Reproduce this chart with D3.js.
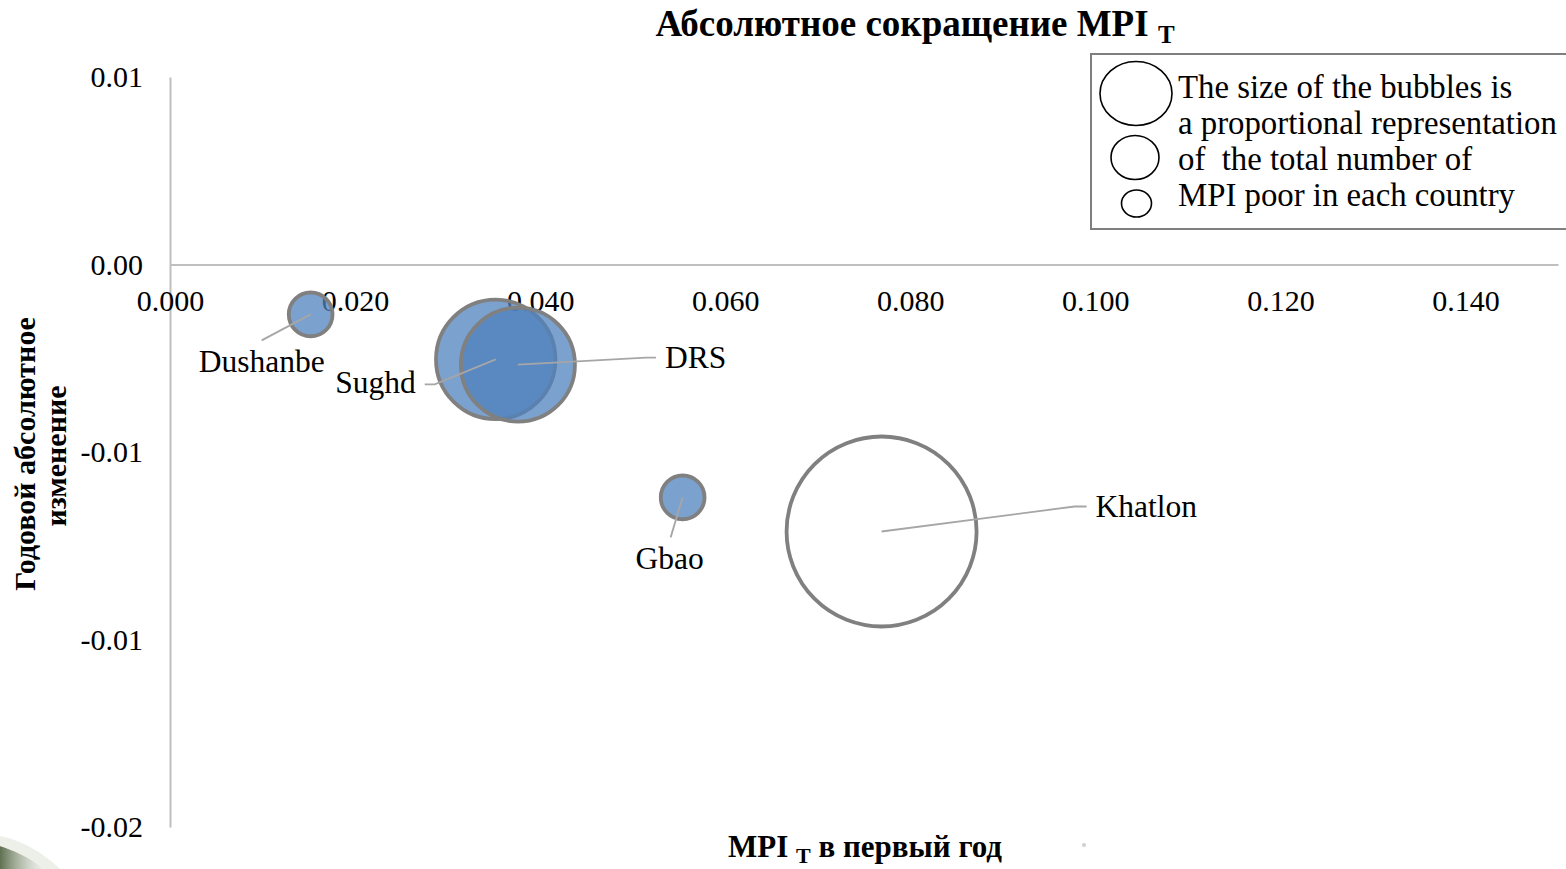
<!DOCTYPE html>
<html>
<head>
<meta charset="utf-8">
<script src="https://cdn.jsdelivr.net/npm/d3@7"></script>
<style>
  html, body { margin: 0; padding: 0; background: #ffffff; }
  svg { display: block; }
  svg text { font-family: 'Liberation Serif', 'DejaVu Serif', serif !important; fill: #000; }
</style>
</head>
<body>
<svg id="chart" width="1566" height="869"></svg>
<script>
// ---------- data ----------
const regions      = ["Dushanbe", "Sughd", "DRS", "Gbao", "Khatlon"];
const mpiFirstYear = [0.0152, 0.0352, 0.0376, 0.0554, 0.0769];
const annualChange = [-0.00133, -0.00253, -0.00267, -0.00621, -0.00712];
const mpiPoor      = [53, 395, 360, 53, 1000];   // relative size of bubbles
const filled       = [true, true, true, true, false];

const xTickValues = [0, 0.02, 0.04, 0.06, 0.08, 0.10, 0.12, 0.14];
const xTickLabels = ["0.000", "0.020", "0.040", "0.060", "0.080", "0.100", "0.120", "0.140"];
const yTickValues = [0.005, 0, -0.005, -0.01, -0.015];
const yTickLabels = ["0.01", "0.00", "-0.01", "-0.01", "-0.02"];

const legendLines = [
  "The size of the bubbles is",
  "a proportional representation",
  "of  the total number of",
  "MPI poor in each country"
];

// ---------- layout ----------
const FONT = "'Liberation Serif', 'DejaVu Serif', serif";
const svg = d3.select("#chart");
const x = d3.scaleLinear().domain([0, 0.15]).range([170, 1558]);
const y = d3.scaleLinear().domain([-0.015, 0.005]).range([827, 77]);
const r = d3.scaleSqrt().domain([0, d3.max(mpiPoor)]).range([0, 95]);

// label layout: leader line points and text position relative to bubble centre
const labelLayout = {
  "Dushanbe": { pts: [[-49, 26]], tx: -49, ty: 58, anchor: "middle" },
  "Sughd":    { pts: [[-61, 25], [-71, 25]], tx: -80, ty: 34, anchor: "end" },
  "DRS":      { pts: [[128, -7], [138, -7]], tx: 147, ty: 3, anchor: "start" },
  "Gbao":     { pts: [[-12, 40]], tx: -13, ty: 72, anchor: "middle" },
  "Khatlon":  { pts: [[193, -25], [205, -25]], tx: 214, ty: -15, anchor: "start" }
};

// decorative slide corner
const defs = svg.append("defs");
const g1 = defs.append("linearGradient").attr("id", "corner").attr("x1", "0").attr("y1", "0").attr("x2", "1").attr("y2", "0");
g1.append("stop").attr("offset", "0").attr("stop-color", "#5f7050");
g1.append("stop").attr("offset", "1").attr("stop-color", "#c9d0c0").attr("stop-opacity", 0.3);
svg.append("path")
  .attr("d", "M0,846 C12,850 28,856 44,869 L0,869 Z")
  .attr("fill", "url(#corner)");
svg.append("path")
  .attr("d", "M0,836 C20,840 40,850 60,869 L44,869 C28,856 12,850 0,846 Z")
  .attr("fill", "#e6eadf").attr("opacity", 0.7);
svg.append("circle").attr("cx", 1084).attr("cy", 845).attr("r", 2).attr("fill", "#d0d0d0");

// ---------- axes ----------
const xAxis = d3.axisBottom(x)
  .tickValues(xTickValues)
  .tickFormat((d, i) => xTickLabels[i])
  .tickSize(0).tickSizeOuter(0).tickPadding(25);
const yAxis = d3.axisLeft(y)
  .tickValues(yTickValues)
  .tickFormat((d, i) => yTickLabels[i])
  .tickSize(0).tickSizeOuter(0).tickPadding(27);

const gy = svg.append("g").attr("transform", `translate(${x(0)},0)`).call(yAxis);
const gx = svg.append("g").attr("transform", `translate(0,${y(0)})`).call(xAxis);
[gx, gy].forEach(g => {
  g.attr("font-family", FONT).attr("font-size", 30);
  g.select(".domain").attr("stroke", "#bfbfbf").attr("stroke-width", 2);
  g.selectAll("text")
    .style("font-family", FONT)
    .attr("font-size", 30)
    .attr("fill", "#000");
});

// ---------- bubbles ----------
const data = regions.map((name, i) => ({
  name, xv: mpiFirstYear[i], yv: annualChange[i], size: mpiPoor[i], filled: filled[i]
}));

svg.append("g").selectAll("circle")
  .data(data)
  .join("circle")
  .attr("cx", d => x(d.xv))
  .attr("cy", d => y(d.yv))
  .attr("r", d => r(d.size))
  .attr("fill", d => d.filled ? "rgba(79,129,189,0.75)" : "#ffffff")
  .attr("stroke", "#808080")
  .attr("stroke-width", 3.8);

// leader lines
svg.append("g").selectAll("polyline")
  .data(data)
  .join("polyline")
  .attr("points", d => {
    const cx = x(d.xv), cy = y(d.yv);
    const L = labelLayout[d.name];
    return [[cx, cy]].concat(L.pts.map(p => [cx + p[0], cy + p[1]])).map(p => p.join(",")).join(" ");
  })
  .attr("fill", "none")
  .attr("stroke", "#a6a6a6")
  .attr("stroke-width", 1.8);

// data labels
svg.append("g").selectAll("text")
  .data(data)
  .join("text")
  .attr("x", d => x(d.xv) + labelLayout[d.name].tx)
  .attr("y", d => y(d.yv) + labelLayout[d.name].ty)
  .attr("text-anchor", d => labelLayout[d.name].anchor)
  .style("font-family", FONT)
  .attr("font-size", 31.5)
  .text(d => d.name);

// ---------- titles ----------
const title = svg.append("text")
  .attr("x", 915).attr("y", 36)
  .attr("text-anchor", "middle")
  .style("font-family", FONT)
  .attr("font-weight", "bold")
  .attr("font-size", 37);
title.append("tspan").text("Абсолютное сокращение MPI ");
title.append("tspan").attr("font-size", 25).attr("dy", 7).text("T");

const xTitle = svg.append("text")
  .attr("x", 865).attr("y", 857)
  .attr("text-anchor", "middle")
  .style("font-family", FONT)
  .attr("font-weight", "bold")
  .attr("font-size", 31);
xTitle.append("tspan").text("MPI ");
xTitle.append("tspan").attr("font-size", 22).attr("dy", 6).text("T");
xTitle.append("tspan").attr("dy", -6).text(" в первый год");

svg.append("text")
  .attr("transform", "translate(35,454) rotate(-90)")
  .attr("text-anchor", "middle")
  .style("font-family", FONT)
  .attr("font-weight", "bold")
  .attr("font-size", 30)
  .text("Годовой абсолютное");
svg.append("text")
  .attr("transform", "translate(66,456) rotate(-90)")
  .attr("text-anchor", "middle")
  .style("font-family", FONT)
  .attr("font-weight", "bold")
  .attr("font-size", 30)
  .text("изменение");

// ---------- legend ----------
const legend = svg.append("g");
legend.append("rect")
  .attr("x", 1091).attr("y", 54).attr("width", 490).attr("height", 175)
  .attr("fill", "#ffffff").attr("stroke", "#7f7f7f").attr("stroke-width", 2);
const legendShapes = [
  { cx: 1136, cy: 93.5, rx: 36, ry: 32 },
  { cx: 1135, cy: 157.5, rx: 24, ry: 22 },
  { cx: 1136.5, cy: 203.5, rx: 15, ry: 13.5 }
];
legend.selectAll("ellipse")
  .data(legendShapes)
  .join("ellipse")
  .attr("cx", d => d.cx).attr("cy", d => d.cy)
  .attr("rx", d => d.rx).attr("ry", d => d.ry)
  .attr("fill", "none").attr("stroke", "#000").attr("stroke-width", 1.6);
legend.selectAll("text")
  .data(legendLines)
  .join("text")
  .attr("x", 1178)
  .attr("y", (d, i) => 98 + i * 36)
  .style("font-family", FONT)
  .style("white-space", "pre")
  .attr("font-size", 32.8)
  .attr("fill", "#1a1a1a")
  .text(d => d);
</script>
</body>
</html>
